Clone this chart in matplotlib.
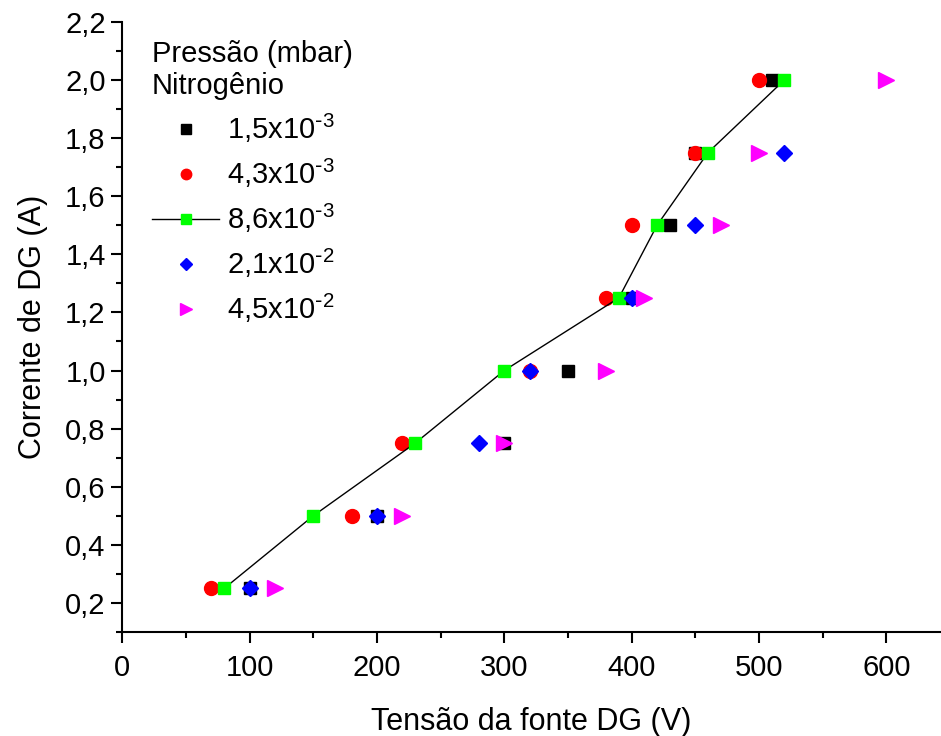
import matplotlib
matplotlib.use('Agg')
import matplotlib.pyplot as plt
from matplotlib.ticker import MultipleLocator, FuncFormatter

plt.rcParams['font.family'] = ['Liberation Sans', 'DejaVu Sans']
plt.rcParams['mathtext.default'] = 'regular'

# corrente (A) for each pressure series
current = [0.25, 0.5, 0.75, 1.0, 1.25, 1.5, 1.75, 2.0]

v_15e3 = [100, 200, 300, 350, 400, 430, 450, 510]
v_43e3 = [70, 180, 220, 320, 380, 400, 450, 500]
v_86e3 = [80, 150, 230, 300, 390, 420, 460, 520]
v_21e2 = [100, 200, 280, 320, 400, 450, 520]
i_21e2 = [0.25, 0.5, 0.75, 1.0, 1.25, 1.5, 1.75]
v_45e2 = [120, 220, 300, 380, 410, 470, 500, 600]

labels = [r'1,5x10$^{\text{-}3}$', r'4,3x10$^{\text{-}3}$', r'8,6x10$^{\text{-}3}$',
          r'2,1x10$^{\text{-}2}$', r'4,5x10$^{\text{-}2}$']

fig = plt.figure(figsize=(9.41, 7.36), dpi=100)
ax = fig.add_axes([0.13, 0.1413, 0.87, 0.829])

ax.plot(v_15e3, current, 's', color='black', markersize=9, label=labels[0])
ax.plot(v_43e3, current, 'o', color='red', markersize=10, label=labels[1])
ax.plot(v_86e3, current, '-s', color='black', lw=1, markerfacecolor='#00ff00',
        markeredgecolor='#00ff00', markersize=9, label=labels[2])
ax.plot(v_21e2, i_21e2, 'D', color='blue', markersize=8.5, label=labels[3])
ax.plot(v_45e2, current, '>', color='magenta', markersize=11, label=labels[4])

ax.set_xlim(0, 643)
ax.set_ylim(0.1, 2.2)
ax.xaxis.set_major_locator(MultipleLocator(100))
ax.xaxis.set_minor_locator(MultipleLocator(50))
ax.yaxis.set_major_locator(MultipleLocator(0.2))
ax.yaxis.set_minor_locator(MultipleLocator(0.1))
ax.yaxis.set_major_formatter(FuncFormatter(lambda v, p: ('%.1f' % v).replace('.', ',')))

for s in ['top', 'right']:
    ax.spines[s].set_visible(False)
for s in ['left', 'bottom']:
    ax.spines[s].set_linewidth(1.5)
ax.tick_params(which='major', length=8, width=1.5, labelsize=21, direction='out')
ax.tick_params(which='minor', length=4.5, width=1.5, direction='out')
ax.tick_params(axis='x', pad=8)
ax.tick_params(axis='y', pad=4)

ax.set_xlabel('Tensão da fonte DG (V)', fontsize=22, labelpad=18)
ax.set_ylabel('Corrente de DG (A)', fontsize=22, labelpad=12)

leg = ax.legend(title='Pressão (mbar)\nNitrogênio', title_fontsize=21, fontsize=21,
                frameon=False, loc='upper left', bbox_to_anchor=(152 / 941, 1 - 40 / 736),
                bbox_transform=fig.transFigure, borderpad=0, borderaxespad=0,
                handlelength=2.3, handletextpad=0.28, labelspacing=0.4,
                markerscale=0.75, alignment='left')

fig.savefig('out.png', dpi=100)
